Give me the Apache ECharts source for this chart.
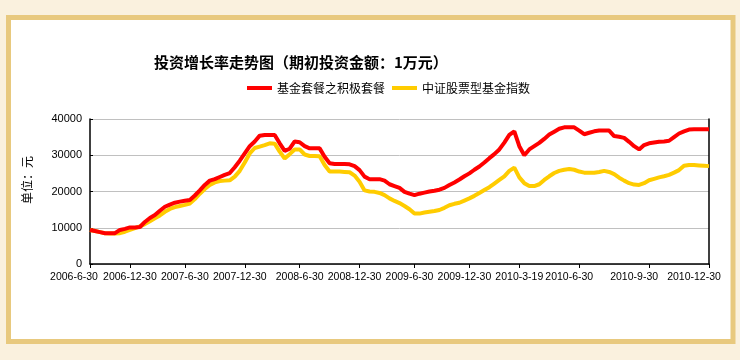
<!DOCTYPE html>
<html>
<head>
<meta charset="utf-8">
<script src="https://cdn.jsdelivr.net/npm/echarts@6/dist/echarts.min.js"></script>
<style>html,body{margin:0;padding:0;background:#FAF1DE;}#c{width:740px;height:360px;}</style>
</head>
<body>
<div id="c"></div>
<script>
const titleText = '投资增长率走势图（期初投资金额：1万元）';
const seriesNames = ['基金套餐之积极套餐', '中证股票型基金指数'];
const yAxisName = '单位：元';
const tickLabels = ['2006-6-30','2006-12-30','2007-6-30','2007-12-30','2008-6-30','2008-12-30','2009-6-30','2009-12-30','2010-3-19','2010-6-30','2010-9-30','2010-12-30'];
const labelIdx = [0, 8, 19, 30, 42, 53, 64, 75, 86, 96, 109, 121];
const tickIdx = [0, 8, 19, 31, 42, 54, 65, 76, 86, 98, 112, 124];
const activePlan = [
9400,9100,8800,8500,8450,8500,9400,9700,10100,10100,
10200,11600,12700,13500,14700,15800,16400,16900,17200,17450,
17650,18900,20300,21800,23000,23400,24000,24600,25100,26700,
28500,30500,32500,33800,35400,35600,35600,35600,33300,31200,
31800,33800,33600,32500,31900,31900,31900,29600,27800,27600,
27600,27600,27500,27000,25900,24100,23400,23400,23400,23000,
22000,21500,21000,19900,19400,19000,19400,19700,20000,20200,
20500,21000,21800,22500,23300,24200,25000,26000,26900,28000,
29200,30300,31600,33500,35600,36600,32500,30000,31600,32500,
33400,34500,35700,36500,37300,37700,37700,37700,36800,35800,
36200,36600,36800,36800,36800,35300,35100,34800,33700,32500,
31600,32800,33300,33500,33700,33800,34000,35000,36000,36600,
37100,37150,37150,37150,37150];
const stockIndex = [
9400,9100,8800,8500,8400,8400,8500,8900,9400,9900,
10400,11000,11800,12600,13400,14400,15200,15700,16000,16300,
16700,17900,19400,20700,21800,22500,22900,23000,23100,24100,
25700,28000,30500,32000,32400,32800,33300,33200,31000,29100,
30300,31600,31600,30200,29800,29800,29700,27300,25500,25500,
25500,25400,25300,24400,22700,20300,20000,19900,19600,19000,
18100,17400,16800,16000,15100,13900,13900,14200,14400,14600,
14900,15500,16200,16600,16900,17500,18100,18800,19600,20400,
21200,22200,23200,24200,25700,26600,23900,22300,21500,21500,
22000,23200,24200,25100,25700,26000,26200,26000,25500,25200,
25200,25200,25400,25700,25400,24800,23800,23000,22300,21900,
21800,22300,23100,23500,23900,24200,24600,25200,25900,27100,
27300,27300,27200,27100,27000];
const categories = activePlan.map((_, i) => String(i));

const chart = echarts.init(document.getElementById('c'));
chart.setOption({
  backgroundColor: '#FAF1DE',
  animation: false,
  graphic: [{
    type: 'rect', z: -10,
    shape: { x: 8.5, y: 17.5, width: 724.5, height: 324 },
    style: { fill: '#FFFFFF', stroke: '#E8C97E', lineWidth: 5 }
  }, {
    type: 'text', z: 10,
    x: 27, y: 180, rotation: Math.PI / 2,
    style: { text: yAxisName, font: '12px "Noto Sans CJK SC"', fill: '#000', align: 'center', verticalAlign: 'middle' }
  }],
  title: {
    text: titleText, left: 149, top: 50,
    textStyle: { fontSize: 15, fontWeight: 'bold', color: '#000', fontFamily: 'Noto Sans CJK SC' }
  },
  legend: {
    left: 242, top: 77, icon: 'rect', itemWidth: 25, itemHeight: 4, itemGap: 7,
    textStyle: { fontSize: 12, color: '#000', fontFamily: 'Noto Sans CJK SC' },
    data: seriesNames
  },
  grid: { left: 90, right: 31, top: 119, bottom: 96 },
  xAxis: {
    type: 'category', boundaryGap: false, data: categories,
    axisLine: { lineStyle: { color: '#000', width: 1.5 } },
    axisTick: { interval: (i) => tickIdx.includes(i), length: 4, lineStyle: { color: '#000' } },
    axisLabel: {
      interval: (i) => labelIdx.includes(i), margin: 8,
      fontSize: 10.5, color: '#000', fontFamily: 'Liberation Sans',
      formatter: (v, i) => {
        const k = labelIdx.indexOf(i);
        if (k < 0) return '';
        return k === 0 ? '{f|' + tickLabels[k] + '}' : tickLabels[k];
      },
      rich: { f: { fontSize: 10.5, fontFamily: 'Liberation Sans', color: '#000', padding: [0, 32, 0, 0] } }
    },
    splitLine: { show: false }
  },
  yAxis: [{
    type: 'value', min: 0, max: 40000, interval: 10000,
    axisLine: { show: true, lineStyle: { color: '#000', width: 1.5 } },
    axisTick: { show: true, inside: true, length: 3, lineStyle: { color: '#000' } },
    axisLabel: { fontSize: 11, color: '#000', margin: 8, fontFamily: 'Liberation Sans', formatter: (v) => String(v) },
    splitLine: { lineStyle: { color: '#C0C0C0', width: 1 } }
  }, {
    type: 'value', min: 0, max: 40000, interval: 10000, position: 'right',
    axisLine: { show: true, lineStyle: { color: '#000', width: 1.5 } },
    axisTick: { show: false }, axisLabel: { show: false }, splitLine: { show: false }
  }],
  series: [{
    name: seriesNames[0], type: 'line', data: activePlan, z: 4,
    showSymbol: false, symbol: 'none',
    lineStyle: { color: '#FF0000', width: 4 }, itemStyle: { color: '#FF0000' }
  }, {
    name: seriesNames[1], type: 'line', data: stockIndex, z: 3,
    showSymbol: false, symbol: 'none',
    lineStyle: { color: '#FFCC00', width: 4 }, itemStyle: { color: '#FFCC00' }
  }]
});
</script>
</body>
</html>
